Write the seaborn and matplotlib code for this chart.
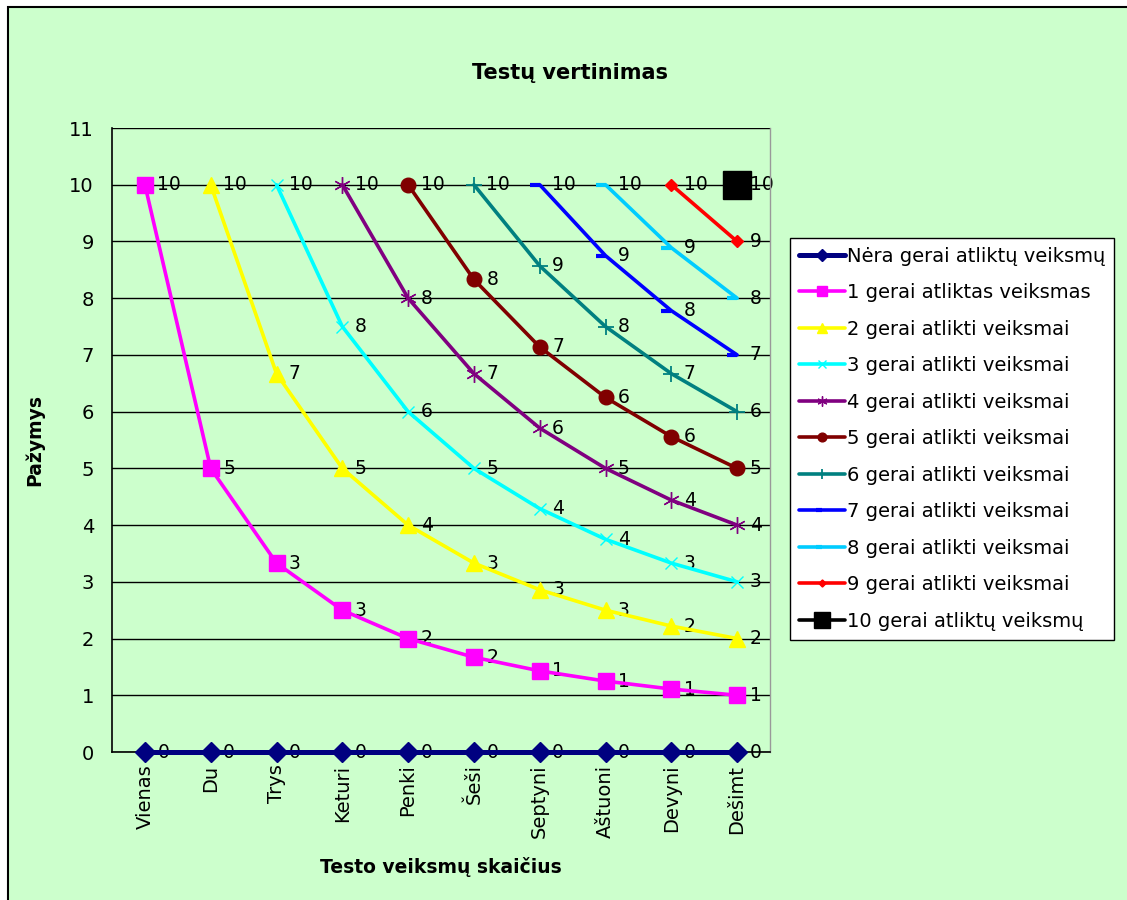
import matplotlib
matplotlib.use("Agg")
import matplotlib.pyplot as plt
from matplotlib.patches import Rectangle
from matplotlib.path import Path
import pandas as pd
import seaborn as sns

sns.set_style("white")
plt.rcParams['font.family'] = ['DejaVu Sans']
plt.rcParams['text.color'] = 'black'
plt.rcParams['xtick.color'] = 'black'
plt.rcParams['ytick.color'] = 'black'

categories = ["Vienas", "Du", "Trys", "Keturi", "Penki", "Šeši", "Septyni", "Aštuoni", "Devyni", "Dešimt"]

names = ["Nėra gerai atliktų veiksmų", "1 gerai atliktas veiksmas", "2 gerai atlikti veiksmai",
         "3 gerai atlikti veiksmai", "4 gerai atlikti veiksmai", "5 gerai atlikti veiksmai",
         "6 gerai atlikti veiksmai", "7 gerai atlikti veiksmai", "8 gerai atlikti veiksmai",
         "9 gerai atlikti veiksmai", "10 gerai atliktų veiksmų"]

# first category of each series
starts = ["Vienas", "Vienas", "Du", "Trys", "Keturi", "Penki", "Šeši", "Septyni", "Aštuoni", "Devyni", "Dešimt"]

s0 = [0, 0, 0, 0, 0, 0, 0, 0, 0, 0]
s1 = [10, 5, 3.33, 2.5, 2, 1.67, 1.43, 1.25, 1.11, 1]
s2 = [10, 6.67, 5, 4, 3.33, 2.86, 2.5, 2.22, 2]
s3 = [10, 7.5, 6, 5, 4.29, 3.75, 3.33, 3]
s4 = [10, 8, 6.67, 5.71, 5, 4.44, 4]
s5 = [10, 8.33, 7.14, 6.25, 5.56, 5]
s6 = [10, 8.57, 7.5, 6.67, 6]
s7 = [10, 8.75, 7.78, 7]
s8 = [10, 8.89, 8]
s9 = [10, 9]
s10 = [10]
series = [s0, s1, s2, s3, s4, s5, s6, s7, s8, s9, s10]

half_dash = Path([(-1, 0), (0, 0)], [Path.MOVETO, Path.LINETO])
styles = [
    dict(color="#000080", marker="D", ms=10, mew=1, lw=3.6),
    dict(color="#FF00FF", marker="s", ms=11.5, mew=1, lw=2.6),
    dict(color="#FFFF00", marker="^", ms=12, mew=1, lw=2.6),
    dict(color="#00FFFF", marker="x", ms=9, mew=1, lw=2.6),
    dict(color="#800080", marker=(6, 2, 0), ms=12, mew=1, lw=2.6),
    dict(color="#800000", marker="o", ms=10.5, mew=1, lw=2.6),
    dict(color="#008080", marker="+", ms=11, mew=1.3, lw=2.6),
    dict(color="#0000FF", marker=half_dash, ms=14, mew=3, lw=2.6),
    dict(color="#00CCFF", marker=half_dash, ms=14, mew=3, lw=2.6),
    dict(color="#FF0000", marker="D", ms=6, mew=1, lw=2.6),
    dict(color="#000000", marker="s", ms=20, mew=1, lw=2.6),
]

rows = []
for name, start, vals in zip(names, starts, series):
    i0 = categories.index(start)
    for j, v in enumerate(vals):
        rows.append({"series": name, "cat": categories[i0 + j], "pos": i0 + j, "value": v})
df = pd.DataFrame(rows)

green = "#CCFFCC"
fig = plt.figure(figsize=(11.27, 9), dpi=100, facecolor="white")
fig.patches.append(Rectangle((8 / 1127, -0.01), 1.0, 1 - 7 / 900 + 0.01, transform=fig.transFigure,
                             facecolor=green, edgecolor="black", lw=1.5, zorder=-10))
ax = fig.add_axes([112 / 1127, 1 - 752 / 900, (770 - 112) / 1127, (752 - 128) / 900])
ax.set_facecolor(green)

for name, st in zip(names, styles):
    d = df[df["series"] == name]
    sns.lineplot(data=d, x="pos", y="value", ax=ax, color=st["color"], marker=st["marker"],
                 markersize=st["ms"], markeredgecolor=st["color"], markerfacecolor=st["color"],
                 markeredgewidth=st["mew"], linewidth=st["lw"], label=name, zorder=3,
                 clip_on=False)
    for _, r in d.iterrows():
        ax.annotate(str(int(r["value"] + 0.5)), (r["pos"], r["value"]), xytext=(9, 0),
                    textcoords="offset points", ha="left", va="center", fontsize=13.5, zorder=2)

ax.set_xlim(-0.5, len(categories) - 0.5)
ax.set_ylim(0, 11)
ax.set_yticks(range(0, 12))
ax.yaxis.grid(True, color="black", lw=1)
ax.set_axisbelow(True)
ax.set_xticks(range(len(categories)))
ax.set_xticklabels(categories, rotation=90, ha="center", va="top", fontsize=14)
ax.set_xticks([i - 0.5 for i in range(len(categories) + 1)], minor=True)
ax.tick_params(axis="x", which="major", length=0, pad=9)
ax.tick_params(axis="x", which="minor", length=6, width=1, color="black", direction="out")
ax.tick_params(axis="y", length=7, width=1, color="black", direction="out", labelsize=14, pad=6)
for side in ["left", "bottom"]:
    ax.spines[side].set_color("black")
    ax.spines[side].set_linewidth(1.2)
ax.spines["top"].set_visible(False)
ax.spines["right"].set_color("#999999")
ax.spines["right"].set_linewidth(1)

ax.set_xlabel("")
ax.set_ylabel("")
fig.text(441 / 1127, 1 - 867 / 900, "Testo veiksmų skaičius", ha="center", va="center",
         fontsize=13.5, fontweight="bold")
fig.text(35 / 1127, 1 - 440 / 900, "Pažymys", ha="center", va="center", rotation=90,
         fontsize=13.5, fontweight="bold")
fig.text(570 / 1127, 1 - 73 / 900, "Testų vertinimas", ha="center", va="center",
         fontsize=15, fontweight="bold")

handles, labels = ax.get_legend_handles_labels()
ax.get_legend().remove()
leg = fig.legend(handles, labels, loc="upper left", bbox_to_anchor=(790 / 1127, 1 - 238 / 900),
                 borderaxespad=0, frameon=True, fancybox=False, edgecolor="black",
                 facecolor="white", framealpha=1, fontsize=14, handlelength=2.4,
                 handletextpad=0.1, labelspacing=0.9, borderpad=0.45)
leg.get_frame().set_linewidth(1)
for h, st in zip(leg.legend_handles, styles):
    h.set_markersize(st["ms"] * 0.6)

fig.savefig("out.png", dpi=100)
